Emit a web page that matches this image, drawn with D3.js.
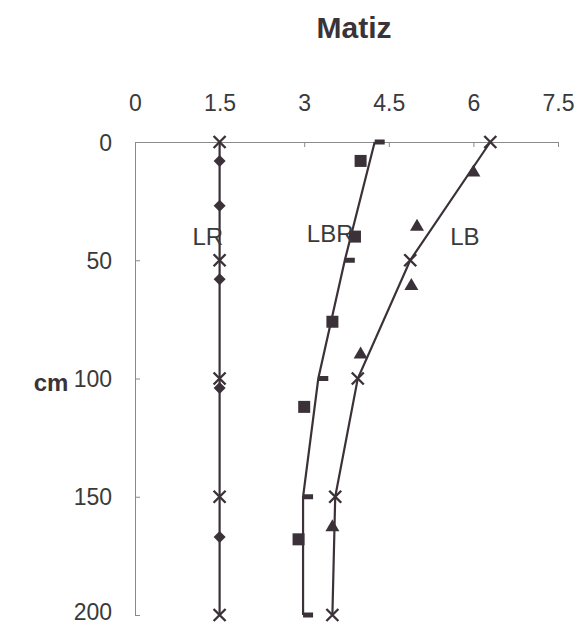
<!DOCTYPE html>
<html>
<head>
<meta charset="utf-8">
<script src="https://cdn.jsdelivr.net/npm/d3@7"></script>
<style>
  body { margin: 0; background: #fff; }
  svg { font-family: "Liberation Sans", Arial, sans-serif; }
</style>
</head>
<body>
<script>
// depths where the fitted lines have their markers
let lineDepths = [0, 50, 100, 150, 200];
let lrLine = [1.5, 1.5, 1.5, 1.5, 1.5];
let lbrLine = [4.25, 3.72, 3.25, 2.98, 2.98];
let lbLine = [6.3, 4.88, 3.95, 3.55, 3.5];

// observed points
let lrDepths = [8, 27, 58, 104, 167];
let lrValues = [1.5, 1.5, 1.5, 1.5, 1.5];
let lbrDepths = [8, 40, 76, 112, 168];
let lbrValues = [4.0, 3.9, 3.5, 3.0, 2.9];
let lbDepths = [12, 35, 60, 89, 162];
let lbValues = [6.0, 5.0, 4.9, 4.0, 3.5];

let xTicks = [0, 1.5, 3, 4.5, 6, 7.5];
let yTicks = [0, 50, 100, 150, 200];

let w = 577;
let h = 628;
let ink = "#3b3239";

let svg = d3.select("body")
  .append("svg")
  .attr("width", w)
  .attr("height", h);

let xScale = d3.scaleLinear().domain([0, 7.5]).range([135, 558]);
let yScale = d3.scaleLinear().domain([0, 200]).range([142, 615]);

let xAxis = d3.axisTop(xScale).tickValues(xTicks).tickSizeInner(-5).tickSizeOuter(0).tickPadding(31)
  .tickFormat(d => d);
let yAxis = d3.axisLeft(yScale).tickValues(yTicks).tickSizeInner(-5).tickSizeOuter(0).tickPadding(23);

let gx = svg.append("g").attr("transform", "translate(0," + yScale(0) + ")").call(xAxis);
let gy = svg.append("g").attr("transform", "translate(" + xScale(0) + ",0)").call(yAxis);

[gx, gy].forEach(g => {
  g.select(".domain").attr("stroke", "#8a8a8a").attr("stroke-width", 1);
  g.selectAll(".tick line").attr("stroke", "#8a8a8a");
  g.selectAll(".tick text")
    .attr("fill", "#3a3a3a")
    .style("font-size", "23px")
    .style("font-family", "Liberation Sans, Arial, sans-serif");
});
gy.selectAll(".tick text").attr("dy", d => d === 200 ? "0.18em" : "0.35em");

// title and axis label
svg.append("text")
  .attr("x", 354)
  .attr("y", 38)
  .attr("text-anchor", "middle")
  .style("font-size", "30px")
  .style("font-weight", "bold")
  .attr("fill", "#3a3338")
  .text("Matiz");

svg.append("text")
  .attr("x", 51)
  .attr("y", 391)
  .attr("text-anchor", "middle")
  .style("font-size", "24px")
  .style("font-weight", "bold")
  .attr("fill", "#3a3338")
  .text("cm");

// fitted lines
let line = d3.line()
  .x(d => xScale(d[0]))
  .y(d => yScale(d[1]));

[lrLine, lbrLine, lbLine].forEach(vals => {
  svg.append("path")
    .datum(vals.map((v, i) => [v, lineDepths[i]]))
    .attr("d", line)
    .attr("fill", "none")
    .attr("stroke", ink)
    .attr("stroke-width", 2.2);
});

// cross markers
function crosses(vals) {
  svg.append("g").selectAll("path")
    .data(vals.map((v, i) => [v, lineDepths[i]]))
    .enter()
    .append("path")
    .attr("transform", d => "translate(" + xScale(d[0]) + "," + yScale(d[1]) + ")")
    .attr("d", "M-6,-6L6,6M-6,6L6,-6")
    .attr("stroke", ink)
    .attr("stroke-width", 2.4);
}
crosses(lrLine);
crosses(lbLine);

// dash markers on LBR line
svg.append("g").selectAll("rect")
  .data(lbrLine.map((v, i) => [v, lineDepths[i]]))
  .enter()
  .append("rect")
  .attr("x", d => xScale(d[0]))
  .attr("y", d => yScale(d[1]) - 2.5)
  .attr("width", 10)
  .attr("height", 5)
  .attr("fill", ink);

// observed LR diamonds
svg.append("g").selectAll("path")
  .data(lrValues.map((v, i) => [v, lrDepths[i]]))
  .enter()
  .append("path")
  .attr("transform", d => "translate(" + xScale(d[0]) + "," + yScale(d[1]) + ")")
  .attr("d", "M0,-6L6,0L0,6L-6,0Z")
  .attr("fill", ink);

// observed LBR squares
svg.append("g").selectAll("rect")
  .data(lbrValues.map((v, i) => [v, lbrDepths[i]]))
  .enter()
  .append("rect")
  .attr("x", d => xScale(d[0]) - 6)
  .attr("y", d => yScale(d[1]) - 6)
  .attr("width", 12)
  .attr("height", 12)
  .attr("fill", ink);

// observed LB triangles
svg.append("g").selectAll("path")
  .data(lbValues.map((v, i) => [v, lbDepths[i]]))
  .enter()
  .append("path")
  .attr("transform", d => "translate(" + xScale(d[0]) + "," + yScale(d[1]) + ")")
  .attr("d", "M0,-6L7,6L-7,6Z")
  .attr("fill", ink);

// series labels
let labels = [["LR", 1.29, 40], ["LBR", 3.46, 39], ["LB", 5.85, 40]];
svg.append("g").selectAll("text")
  .data(labels)
  .enter()
  .append("text")
  .attr("x", d => xScale(d[1]))
  .attr("y", d => yScale(d[2]) + 8)
  .attr("text-anchor", "middle")
  .style("font-size", "24px")
  .attr("fill", "#3a3a3a")
  .text(d => d[0]);
</script>
</body>
</html>
